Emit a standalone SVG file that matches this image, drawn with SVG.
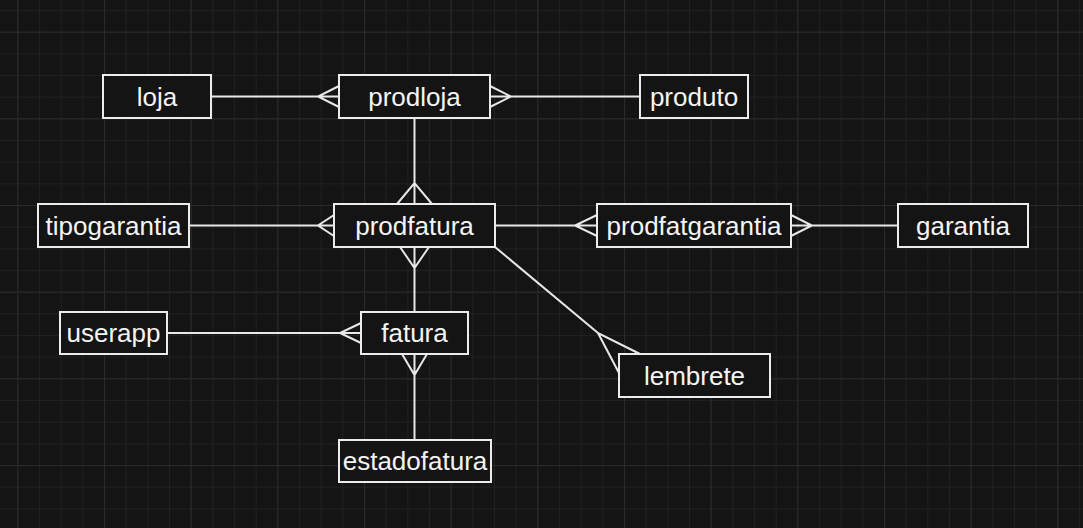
<svg xmlns="http://www.w3.org/2000/svg" width="1083" height="528" viewBox="0 0 1083 528">
  <defs>
    <pattern id="minor" patternUnits="userSpaceOnUse" x="17.33" y="10" width="21.667" height="21.667">
      <path d="M0.5,0 V21.667 M0,0.5 H21.667" fill="none" stroke="#202020" stroke-width="1"/>
    </pattern>
    <pattern id="major" patternUnits="userSpaceOnUse" x="17.33" y="31.67" width="86.667" height="86.667">
      <path d="M0.5,0 V86.667 M0,0.5 H86.667" fill="none" stroke="#2a2a2a" stroke-width="1"/>
    </pattern>
    <style>
      .box { fill: #141414; stroke: #ececec; stroke-width: 2; }
      .lbl { font-family: "Liberation Sans", Arial, sans-serif; font-size: 26px; fill: #f4f4f4; text-anchor: middle; }
      .edge { fill: none; stroke: #e8e8e8; stroke-width: 2; }
    </style>
  </defs>
  <rect width="1083" height="528" fill="#141414"/>
  <rect width="1083" height="528" fill="url(#minor)"/>
  <rect width="1083" height="528" fill="url(#major)"/>

  <g id="connectors">
    <path class="edge" d="M211,96.5 H339 M339,86 L318,96.5 L339,107"/>
    <path class="edge" d="M490,96.5 H640 M490,86 L511,96.5 L490,107"/>
    <path class="edge" d="M414.5,118 V204 M397,204 L414.5,183 L432,204"/>
    <path class="edge" d="M414.5,247 V312 M400,247 L414.5,268 L429,247"/>
    <path class="edge" d="M189,225.5 H334 M334,215 L318,225.5 L334,236"/>
    <path class="edge" d="M495,225.5 H597 M597,215 L575,225.5 L597,236"/>
    <path class="edge" d="M791,225.5 H898 M791,215 L812,225.5 L791,236"/>
    <path class="edge" d="M167,333 H361 M361,323 L340,333 L361,343"/>
    <path class="edge" d="M414.5,354 V440 M402,354 L414.5,375 L427,354"/>
    <path class="edge" d="M495,247 L598,333 M640,354 L598,333 L619,373"/>
  </g>

  <g id="loja"><rect class="box" x="103" y="75" width="108" height="43"/><text class="lbl" x="157" y="105.5">loja</text></g>
  <g id="prodloja"><rect class="box" x="339" y="75" width="151" height="43"/><text class="lbl" x="414.5" y="105.5">prodloja</text></g>
  <g id="produto"><rect class="box" x="640" y="75" width="108" height="43"/><text class="lbl" x="694" y="105.5">produto</text></g>
  <g id="tipogarantia"><rect class="box" x="38" y="204" width="151" height="43"/><text class="lbl" x="113.5" y="234.5">tipogarantia</text></g>
  <g id="prodfatura"><rect class="box" x="334" y="204" width="161" height="43"/><text class="lbl" x="414.5" y="234.5">prodfatura</text></g>
  <g id="prodfatgarantia"><rect class="box" x="597" y="204" width="194" height="43"/><text class="lbl" x="694" y="234.5">prodfatgarantia</text></g>
  <g id="garantia"><rect class="box" x="898" y="204" width="130" height="43"/><text class="lbl" x="963" y="234.5">garantia</text></g>
  <g id="userapp"><rect class="box" x="60" y="312" width="107" height="42"/><text class="lbl" x="113.5" y="342">userapp</text></g>
  <g id="fatura"><rect class="box" x="361" y="312" width="107" height="42"/><text class="lbl" x="414.5" y="342">fatura</text></g>
  <g id="lembrete"><rect class="box" x="619" y="354" width="151" height="43"/><text class="lbl" x="694.5" y="384.5">lembrete</text></g>
  <g id="estadofatura"><rect class="box" x="339" y="440" width="152" height="42"/><text class="lbl" x="415" y="470">estadofatura</text></g>
</svg>
